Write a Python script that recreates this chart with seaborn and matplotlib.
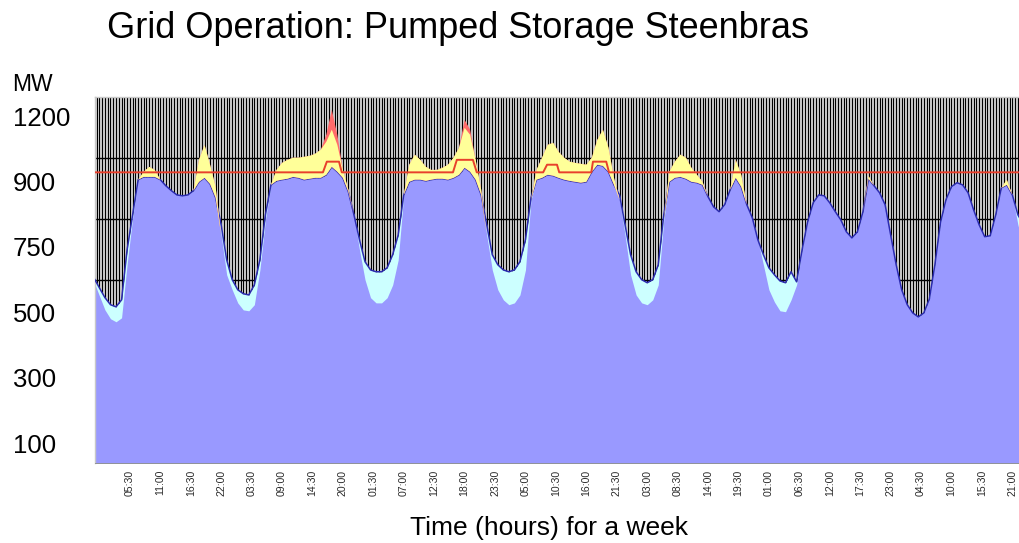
import numpy as np
import matplotlib
matplotlib.use("Agg")
import matplotlib.pyplot as plt
import seaborn as sns

# hourly readings, hour -1 .. 167 of the week (MW)
base_mw = [594, 548, 502, 473, 463, 476,
           650, 804, 929, 938, 938, 938,
           929, 909, 893, 879, 876, 879,
           893, 922, 935, 915, 870, 748,
           617, 568, 525, 502, 499, 519,
           633, 797, 912, 925, 929, 932,
           938, 935, 929, 932, 935, 935,
           945, 971, 955, 935, 889, 814,
           699, 601, 542, 525, 525, 542,
           584, 666, 879, 922, 929, 929,
           925, 929, 932, 932, 929, 935,
           945, 968, 955, 929, 879, 748,
           633, 568, 535, 519, 525, 551,
           633, 863, 929, 935, 945, 942,
           935, 929, 925, 922, 919, 922,
           955, 978, 974, 955, 912, 863,
           748, 617, 551, 525, 519, 535,
           584, 797, 922, 935, 938, 932,
           922, 919, 912, 873, 840, 824,
           847, 896, 935, 906, 847, 804,
           732, 650, 568, 528, 499, 496,
           535, 584, 699, 791, 853, 879,
           876, 853, 824, 797, 758, 738,
           758, 824, 932, 909, 886, 847,
           748, 650, 568, 519, 492, 479,
           492, 538, 650, 788, 863, 906,
           919, 912, 886, 830, 781, 742,
           745, 814, 902, 912, 879, 781,
           715]

# demand including pumping load
total_mw = [607, 574, 542, 519, 512, 535,
            699, 814, 929, 938, 938, 938,
            929, 909, 893, 879, 876, 879,
            893, 922, 935, 915, 870, 781,
            666, 601, 568, 555, 551, 584,
            666, 814, 912, 925, 929, 932,
            938, 935, 929, 932, 935, 935,
            945, 971, 955, 935, 889, 814,
            732, 660, 633, 627, 627, 640,
            683, 748, 879, 922, 929, 929,
            925, 929, 932, 932, 929, 935,
            945, 968, 955, 929, 879, 781,
            683, 650, 633, 627, 633, 660,
            732, 870, 929, 935, 945, 942,
            935, 929, 925, 922, 919, 922,
            955, 978, 974, 955, 912, 879,
            781, 683, 627, 601, 591, 601,
            650, 814, 922, 935, 938, 932,
            922, 919, 912, 873, 840, 824,
            847, 896, 935, 906, 847, 804,
            732, 683, 640, 617, 597, 591,
            627, 594, 699, 791, 853, 879,
            876, 853, 824, 797, 758, 738,
            758, 824, 932, 909, 886, 847,
            748, 650, 568, 519, 492, 479,
            492, 538, 650, 788, 863, 906,
            919, 912, 886, 830, 781, 742,
            745, 814, 902, 912, 879, 814,
            781]

# peak demand (yellow)
peak_mw = [594, 548, 502, 473, 463, 476,
           650, 804, 929, 955, 971, 961,
           929, 909, 893, 879, 876, 879,
           893, 994, 1043, 978, 906, 748,
           617, 568, 525, 502, 499, 519,
           633, 797, 912, 961, 984, 994,
           1001, 1001, 1004, 1007, 1014, 1027,
           1053, 1093, 1043, 961, 896, 814,
           699, 601, 542, 525, 525, 542,
           584, 666, 879, 978, 1011, 994,
           971, 961, 961, 968, 978, 1001,
           1034, 1099, 1076, 994, 896, 748,
           633, 568, 535, 519, 525, 551,
           633, 863, 961, 1001, 1043, 1050,
           1020, 1001, 988, 984, 981, 978,
           1001, 1060, 1093, 1034, 935, 863,
           748, 617, 551, 525, 519, 535,
           584, 797, 955, 988, 1011, 1001,
           968, 945, 922, 873, 840, 824,
           847, 896, 994, 945, 847, 804,
           732, 650, 568, 528, 499, 496,
           535, 584, 699, 791, 853, 879,
           876, 853, 824, 797, 758, 738,
           758, 824, 942, 909, 886, 847,
           748, 650, 568, 519, 492, 479,
           492, 538, 650, 788, 863, 906,
           919, 912, 886, 830, 781, 742,
           745, 814, 902, 929, 879, 781,
           715]

# excess peaks (red)
excess_mw = [594, 548, 502, 473, 463, 476,
             650, 804, 929, 955, 971, 961,
             929, 909, 893, 879, 876, 879,
             893, 994, 1043, 978, 906, 748,
             617, 568, 525, 502, 499, 519,
             633, 797, 912, 961, 984, 994,
             1001, 1001, 1004, 1007, 1014, 1027,
             1076, 1158, 1076, 961, 896, 814,
             699, 601, 542, 525, 525, 542,
             584, 666, 879, 978, 1011, 994,
             971, 961, 961, 968, 978, 1001,
             1034, 1125, 1093, 994, 896, 748,
             633, 568, 535, 519, 525, 551,
             633, 863, 961, 1001, 1043, 1050,
             1020, 1001, 988, 984, 981, 978,
             1001, 1060, 1093, 1034, 935, 863,
             748, 617, 551, 525, 519, 535,
             584, 797, 955, 988, 1011, 1001,
             968, 945, 922, 873, 840, 824,
             847, 896, 994, 945, 847, 804,
             732, 650, 568, 528, 499, 496,
             535, 584, 699, 791, 853, 879,
             876, 853, 824, 797, 758, 738,
             758, 824, 942, 909, 886, 847,
             748, 650, 568, 519, 492, 479,
             492, 538, 650, 788, 863, 906,
             919, 912, 886, 830, 781, 742,
             745, 814, 902, 929, 879, 781,
             715]

# limit line (red)
limit_hours = [-1, 40.4, 41.1, 43.3, 43.8, 63.9, 64.6, 67.5, 68.2,
               80.2, 80.9, 82.7, 83.1, 88.9, 89.2, 91.6, 92.1, 167]
limit_mw = [953, 953, 988, 988, 953, 953, 994, 994, 953,
            953, 978, 978, 953, 953, 988, 988, 953, 953]

time_labels = ["05:30", "11:00", "16:30", "22:00", "03:30", "09:00", "14:30", "20:00",
               "01:30", "07:00", "12:30", "18:00", "23:30", "05:00", "10:30", "16:00",
               "21:30", "03:00", "08:30", "14:00", "19:30", "01:00", "06:30", "12:00",
               "17:30", "23:00", "04:30", "10:00", "15:30", "21:00"]
mw_labels = ["1200", "900", "750", "500", "300", "100"]
mw_label_pos = [1135, 922, 709, 492, 279, 63]

sns.set_style("white")
plt.rcParams["font.family"] = ["Liberation Sans", "DejaVu Sans"]
plt.rcParams["text.color"] = "black"
plt.rcParams["ytick.color"] = "black"
plt.rcParams["ytick.labelcolor"] = "black"

hours = np.arange(-1, 168)
base = np.array(base_mw)
total = np.array(total_mw)
peak = np.array(peak_mw)
excess = np.array(excess_mw)

fig = plt.figure(figsize=(10.19, 5.43), dpi=100)
ax = fig.add_axes([95 / 1019, 80 / 543, 924 / 1019, 366 / 543])

# striped background
ax.set_facecolor("#c4c4c4")
ax.vlines(np.arange(-1, 167, 0.5), 0, 1200, colors="black", lw=0.72, zorder=0.5)
ax.hlines([200, 400, 600, 800, 1000], -1, 167, colors="black", lw=1.0, zorder=0.6)

ax.fill_between(hours, 0, total, color="#ccffff", lw=0, zorder=1)
ax.fill_between(hours, 0, base, color="#9999ff", lw=0, zorder=2)
sns.lineplot(x=hours, y=total, color="#2b2bb0", lw=1.1, ax=ax, zorder=3)
ax.fill_between(hours, base, excess, where=excess > base, interpolate=True,
                color="#ff6b6b", lw=0, zorder=4)
ax.fill_between(hours, base, peak, where=peak > base, interpolate=True,
                color="#ffff99", lw=0, zorder=5)
sns.lineplot(x=limit_hours, y=limit_mw, color="#e8402c", lw=1.4, ax=ax, zorder=6)

ax.set_xlim(-0.8, 166.2)
ax.set_ylim(0, 1200)

ax.set_xticks([5.5 * (i + 1) for i in range(len(time_labels))])
ax.set_xticklabels(time_labels, rotation=90, fontsize=7.6, color="#2a2a2a")
ax.set_xticks(np.arange(-0.5, 166.5, 0.5), minor=True)
ax.tick_params(axis="x", which="major", length=3, width=0.6, color="#555555", pad=2)
ax.tick_params(axis="x", which="minor", length=3, width=0.5, color="#555555")

ax.set_yticks(mw_label_pos)
ax.set_yticklabels(mw_labels, fontsize=18.5, color="black")
ax.tick_params(axis="y", length=0, pad=59)
for t in ax.get_yticklabels():
    t.set_horizontalalignment("left")

ax.set_xlabel("")
ax.set_ylabel("")
for side in ["left", "top"]:
    ax.spines[side].set_color("#c8c8c8")
    ax.spines[side].set_linewidth(1.0)
ax.spines["right"].set_visible(False)
ax.spines["bottom"].set_color("#888888")
ax.spines["bottom"].set_linewidth(0.6)

fig.text(12 / 1019, 1 - 85 / 543, "MW", fontsize=16.5, ha="left", va="center", color="black")
fig.text(107 / 1019, 1 - 28 / 543, "Grid Operation: Pumped Storage Steenbras",
         fontsize=26, ha="left", va="center", color="black")
fig.text(549 / 1019, 1 - 528 / 543, "Time (hours) for a week",
         fontsize=19, ha="center", va="center", color="black")

fig.savefig("out.png", dpi=100)
